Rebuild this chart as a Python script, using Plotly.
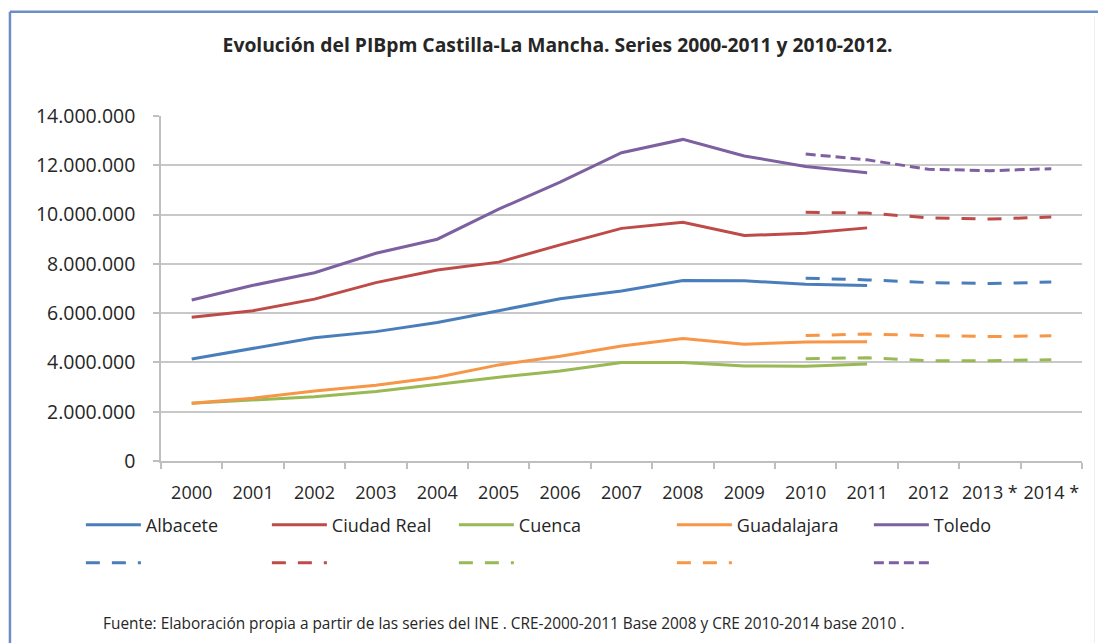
import plotly.graph_objects as go

# categories
years = ['2000', '2001', '2002', '2003', '2004', '2005', '2006', '2007',
         '2008', '2009', '2010', '2011', '2012', '2013 *', '2014 *']
years_old = years[:12]      # CRE 2000-2011 base 2008
years_new = years[10:]      # CRE 2010-2014 base 2010

# series 2000-2011 (euros, thousands)
albacete = [4140000, 4570000, 5000000, 5250000, 5620000, 6100000, 6580000, 6900000, 7320000, 7310000, 7170000, 7120000]
ciudad_real = [5830000, 6100000, 6570000, 7240000, 7750000, 8070000, 8770000, 9440000, 9690000, 9150000, 9240000, 9460000]
cuenca = [2340000, 2460000, 2610000, 2820000, 3110000, 3400000, 3650000, 4000000, 4000000, 3860000, 3840000, 3940000]
guadalajara = [2340000, 2550000, 2840000, 3070000, 3400000, 3900000, 4250000, 4670000, 4970000, 4740000, 4830000, 4840000]
toledo = [6530000, 7130000, 7640000, 8430000, 9000000, 10220000, 11320000, 12510000, 13050000, 12380000, 11950000, 11700000]

# series 2010-2014
albacete_n = [7420000, 7350000, 7240000, 7200000, 7260000]
ciudad_real_n = [10090000, 10060000, 9870000, 9820000, 9900000]
cuenca_n = [4150000, 4190000, 4070000, 4070000, 4110000]
guadalajara_n = [5090000, 5150000, 5090000, 5050000, 5080000]
toledo_n = [12460000, 12220000, 11840000, 11780000, 11860000]

names = ['Albacete', 'Ciudad Real', 'Cuenca', 'Guadalajara', 'Toledo']
colors = ['#4A7EBB', '#BE4B48', '#98B954', '#F79646', '#7D60A0']
old_series = [albacete, ciudad_real, cuenca, guadalajara, toledo]
new_series = [albacete_n, ciudad_real_n, cuenca_n, guadalajara_n, toledo_n]
dashes = ['14px,12px', '14px,12px', '14px,12px', '14px,12px', '10px,5px']
entry_w = [116, 117, 148, 127, 127]   # legend column widths, like Excel's

font = 'Open Sans, Arial, sans-serif'
txt = '#262626'

fig = go.Figure()
for n, c, s, w in zip(names, colors, old_series, entry_w):
    fig.add_trace(go.Scatter(x=years_old, y=s, name=n, mode='lines', legendwidth=w,
                             line=dict(color=c, width=3), legend='legend'))
for n, c, s, d, w in zip(names, colors, new_series, dashes, entry_w):
    fig.add_trace(go.Scatter(x=years_new, y=s, name=' ', mode='lines', legendwidth=w,
                             line=dict(color=c, width=3, dash=d), legend='legend2'))

# outer frame of the chart
fig.add_shape(type='line', xref='paper', yref='paper', x0=-0.164, x1=1.03, y0=1.302, y1=1.302,
              line=dict(color='#6C8EC4', width=2.5))
fig.add_shape(type='line', xref='paper', yref='paper', x0=-0.164, x1=-0.164, y0=1.302, y1=-0.6,
              line=dict(color='#6C8EC4', width=2.5))
fig.add_shape(type='line', xref='paper', yref='paper', x0=1.0135, x1=1.0135, y0=1.29, y1=-0.6,
              line=dict(color='#EDEDED', width=1))

fig.add_annotation(text='Fuente: Elaboración propia a partir de las series del INE . CRE-2000-2011 Base 2008 y CRE 2010-2014 base 2010 .',
                   xref='paper', yref='paper', x=-0.065, y=-0.4696, xanchor='left', yanchor='middle',
                   showarrow=False, font=dict(family=font, size=15.4, color=txt))

legend_common = dict(orientation='h', xanchor='left', yanchor='middle', bgcolor='rgba(0,0,0,0)',
                     font=dict(family=font, size=18, color=txt), itemwidth=55,
                     entrywidth=127, entrywidthmode='pixels', traceorder='normal')

# page body has an 8px margin, so the figure is 8px smaller than the window
fig.update_layout(
    width=1098, height=635,
    margin=dict(l=153, r=24, t=108, b=182, autoexpand=False),
    paper_bgcolor='white', plot_bgcolor='white',
    separators=',.',
    title=dict(text='<b>Evolución del PIBpm Castilla-La Mancha. Series 2000-2011 y 2010-2012.</b>',
               x=0.5005, xanchor='center', y=0.942, yanchor='middle',
               font=dict(family=font, size=19.3, color=txt)),
    legend=dict(x=-0.087, y=-0.1855, **legend_common),
    legend2=dict(x=-0.087, y=-0.2957, **legend_common),
    xaxis=dict(type='category', categoryorder='array', categoryarray=years,
               range=[-0.5, 14.5], showgrid=False, showline=True, linecolor='#BFBFBF', linewidth=1.5,
               ticks='outside', tickson='boundaries', ticklen=6, tickcolor='#BFBFBF', tickwidth=1.5,
               tickangle=0, automargin=False,
               ticklabelstandoff=15, tickfont=dict(family=font, size=18, color=txt)),
    yaxis=dict(range=[0, 14000000], dtick=2000000, tickformat=',d', automargin=False,
               showgrid=True, gridcolor='#C8C8C8', gridwidth=1.5,
               showline=True, linecolor='#BFBFBF', linewidth=1.5, zeroline=False,
               ticks='outside', ticklen=6, tickcolor='#BFBFBF', tickwidth=1.5,
               ticklabelstandoff=14, tickfont=dict(family=font, size=19.5, color=txt)),
)

fig.write_html('out.html')
